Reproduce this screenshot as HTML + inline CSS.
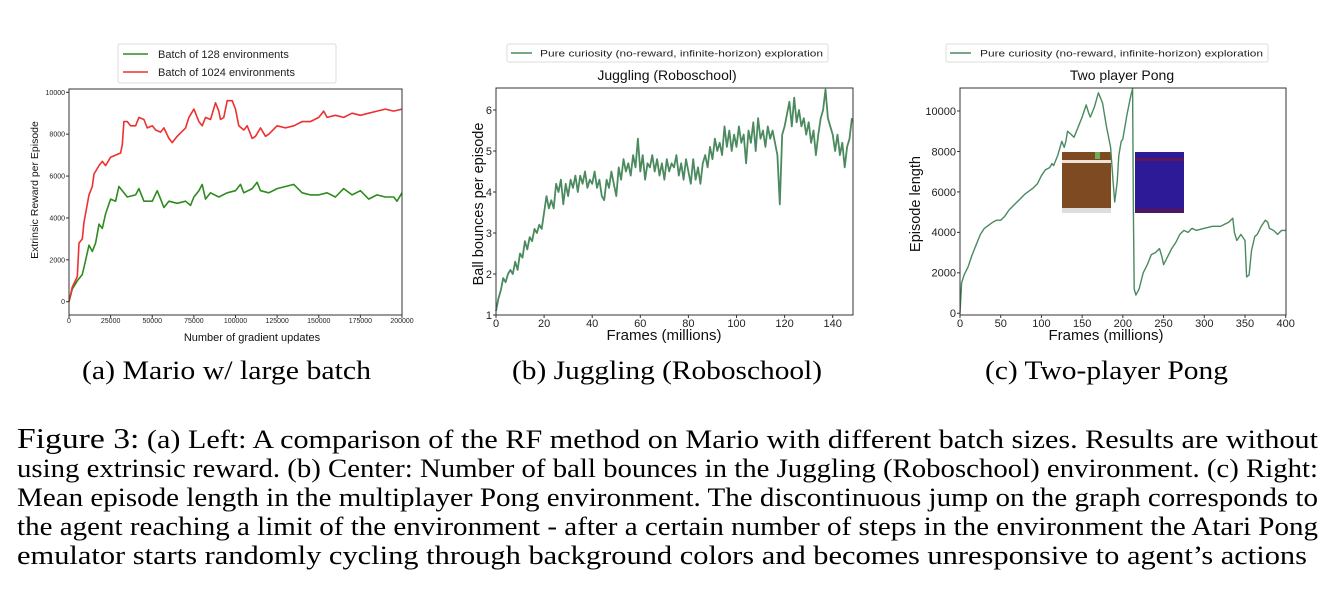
<!DOCTYPE html>
<html><head><meta charset="utf-8"><style>
html,body{margin:0;padding:0;background:#fff;}
svg{display:block;}
text{font-family:"Liberation Sans","DejaVu Sans",sans-serif;}
text.serif{font-family:"Liberation Serif","Times New Roman",serif;}
</style></head><body>
<svg id="fig" width="1336" height="604" viewBox="0 0 1336 604" xmlns="http://www.w3.org/2000/svg">
<g id="capA"><text class="serif" x="82" y="379" font-size="26" textLength="289" lengthAdjust="spacingAndGlyphs">(a) Mario w/ large batch</text></g>
<g id="capB"><text class="serif" x="512" y="379" font-size="26" textLength="310" lengthAdjust="spacingAndGlyphs">(b) Juggling (Roboschool)</text></g>
<g id="capC"><text class="serif" x="985" y="379" font-size="26" textLength="243" lengthAdjust="spacingAndGlyphs">(c) Two-player Pong</text></g>
<g>
<text class="serif" x="17" y="448" font-size="26" textLength="1301" lengthAdjust="spacingAndGlyphs"><tspan font-size="29">Figure 3:</tspan> (a) Left: A comparison of the RF method on Mario with different batch sizes. Results are without</text>
<text class="serif" x="17" y="477" font-size="26" textLength="1301" lengthAdjust="spacingAndGlyphs">using extrinsic reward. (b) Center: Number of ball bounces in the Juggling (Roboschool) environment. (c) Right:</text>
<text class="serif" x="17" y="506" font-size="26" textLength="1301" lengthAdjust="spacingAndGlyphs">Mean episode length in the multiplayer Pong environment. The discontinuous jump on the graph corresponds to</text>
<text class="serif" x="17" y="535" font-size="26" textLength="1301" lengthAdjust="spacingAndGlyphs">the agent reaching a limit of the environment - after a certain number of steps in the environment the Atari Pong</text>
<text class="serif" x="17" y="564" font-size="26" textLength="1290" lengthAdjust="spacingAndGlyphs">emulator starts randomly cycling through background colors and becomes unresponsive to agent’s actions</text>
</g>
</svg>
<script>
// ---- Chart (a) Mario data ----
const marioX128 = [0,2,5,8,10,12,14,16,18,20,22,25,28,30,32,35,40,42,45,50,53,55,57,60,65,70,73,75,78,80,82,85,90,95,100,103,105,110,113,115,120,125,130,135,140,145,150,155,160,165,170,175,180,185,190,195,197,200];
const mario128 = [0,600,1000,1300,2000,2700,2400,2800,3700,3500,4200,4900,4800,5500,5300,5000,5100,5400,4800,4800,5300,4900,4500,4800,4700,4800,4600,5000,5300,5600,4900,5200,5000,5200,5300,5600,5200,5400,5700,5300,5200,5400,5500,5600,5200,5100,5100,5200,5000,5400,5100,5300,4900,5100,5000,5000,4800,5200];
const marioX1024 = [0,2,5,6,8,9,12,14,15,18,20,22,25,28,31,32,33,35,37,40,42,45,47,50,52,55,57,60,62,65,70,72,75,78,80,82,85,88,90,91,93,95,98,100,102,105,107,110,112,115,118,120,125,130,135,140,145,150,153,155,160,165,170,175,180,185,190,195,200];
const mario1024 = [0,700,1200,2800,3000,3800,5100,5500,6100,6500,6700,6500,6900,7000,7100,7500,8600,8600,8400,8400,8800,8700,8300,8400,8200,8100,8300,7800,7600,7900,8300,8800,9200,8600,8400,8800,8700,9500,9100,8700,8800,9600,9600,9200,8400,8200,8400,7800,7900,8300,7900,8000,8400,8300,8400,8600,8600,8800,9100,8800,8900,8800,9000,8900,9000,9100,9200,9100,9200];
const marioXTicks = [0,25000,50000,75000,100000,125000,150000,175000,200000];
const marioYTicks = [0,2000,4000,6000,8000,10000];
// ---- Chart (b) Juggling data ----
const juggleY = [1.1,1.4,1.6,1.9,1.8,2.0,2.1,2.0,2.3,2.1,
2.5,2.4,2.8,2.6,2.9,2.8,3.1,3.0,3.2,3.1,
3.5,3.9,3.6,3.8,3.6,4.2,4.0,4.3,3.7,4.2,
3.9,4.3,4.1,4.4,4.0,4.4,4.2,4.5,4.1,4.3,
4.2,4.5,4.1,4.3,3.9,3.8,4.3,4.1,4.5,4.2,
3.9,4.6,4.3,4.8,4.5,4.7,4.4,4.9,4.6,5.3,
4.5,4.9,4.3,4.7,4.6,4.9,4.5,4.8,4.4,4.7,
4.3,4.8,4.5,4.7,4.6,4.9,4.4,4.7,4.3,4.8,
4.5,4.2,4.8,4.3,4.6,4.2,4.7,4.9,4.6,5.1,
4.8,5.3,5.0,5.2,4.9,5.6,5.1,5.5,5.0,5.4,
5.1,5.6,5.2,5.4,4.7,5.5,5.2,5.7,5.0,5.8,
5.3,5.5,5.1,5.6,5.3,5.5,5.2,4.9,3.7,5.4,
5.6,5.9,6.2,5.6,6.3,5.7,6.0,5.6,5.8,5.4,
5.7,5.2,5.5,4.9,5.4,5.8,6.0,6.5,5.8,5.6,
5.4,5.0,5.4,4.9,5.2,4.6,5.1,5.3,5.8];
const juggleXTicks = [0,20,40,60,80,100,120,140];
const juggleYTicks = [1,2,3,4,5,6];
// ---- Chart (c) Pong data ----
const pongX = [0,2,5,10,15,20,25,30,40,45,50,55,60,70,75,80,90,95,100,105,110,113,115,120,125,128,130,132,135,140,145,150,155,158,160,165,170,175,180,185,188,190,193,195,198,200,205,210,212,213,214,216,220,225,230,235,240,245,248,250,255,260,265,270,275,280,285,290,300,310,320,330,335,337,340,345,350,352,355,358,362,365,370,375,378,380,385,390,395,400];
const pongY = [0,1500,1900,2300,2900,3400,3900,4200,4500,4600,4600,4800,5100,5500,5700,5900,6200,6400,6800,7100,7200,7400,7300,7800,8500,8200,8500,9000,8900,8700,9200,9700,10300,9900,9700,10200,10900,10400,9200,8200,6500,5500,6500,7800,8500,8600,9800,10800,11100,5000,1200,900,1200,2000,2400,2900,3000,3200,2800,2400,2800,3200,3500,3900,4100,4000,4200,4100,4200,4300,4300,4500,4700,4000,3600,3900,3600,1800,1900,3100,3800,3900,4300,4600,4500,4200,4100,3900,4100,4100];
const pongXTicks = [0,50,100,150,200,250,300,350,400];
const pongYTicks = [0,2000,4000,6000,8000,10000];

const NS = 'http://www.w3.org/2000/svg';
const svg = document.getElementById('fig');
function mk(tag, attrs, parent) {
  const e = document.createElementNS(NS, tag);
  for (const k in attrs) e.setAttribute(k, attrs[k]);
  (parent || svg).appendChild(e);
  return e;
}
function scale(d0, d1, r0, r1) { return v => r0 + (v - d0) / (d1 - d0) * (r1 - r0); }

function axes(g, box, sx, sy, xt, yt, fs, xFmt, yFmt) {
  mk('rect', {x: box.l, y: box.t, width: box.r - box.l, height: box.b - box.t, fill: 'none', stroke: '#333', 'stroke-width': 1}, g);
  xt.forEach(v => {
    const x = sx(v);
    const t = mk('line', {x1: x, x2: x, y1: box.b, y2: box.b + 3, stroke: '#333'}, g);
    
    
    const tx = mk('text', {x: x, y: box.b + fs + 1, 'font-size': fs, 'text-anchor': 'middle', fill: '#222'}, g);
    tx.textContent = xFmt(v);
    
    
  });
  yt.forEach(v => {
    const y = sy(v);
    const t = mk('line', {x1: box.l - 3, x2: box.l, y1: y, y2: y, stroke: '#333'}, g);
    
    
    const tx = mk('text', {x: box.l - 4, y: y + fs * 0.35, 'font-size': fs, 'text-anchor': 'end', fill: '#222'}, g);
    tx.textContent = yFmt(v);
    
    
  });
}
function line(g, xs, ys, sx, sy, color, w, name) {
  const d = xs.map((x, i) => (i ? 'L' : 'M') + sx(x).toFixed(1) + ',' + sy(ys[i]).toFixed(1)).join('');
  const p = mk('path', {d: d, fill: 'none', stroke: color, 'stroke-width': w, 'stroke-linejoin': 'round'}, g);
  
  
}
function label(g, x, y, txt, fs, rot, name) {
  const t = mk('text', {x: x, y: y, 'font-size': fs, 'text-anchor': 'middle', fill: '#111'}, g);
  if (rot) t.setAttribute('transform', 'rotate(-90 ' + x + ' ' + y + ')');
  t.textContent = txt;
  
  
}

// ---- Chart (a) ----
{
  const g = mk('g', {});
  
  
  const box = {l: 69, r: 402, t: 89, b: 315};
  const sx = scale(0, 200000, box.l, box.r);
  const sy = scale(0, 10000, 301.7, 92.3);
  const sxk = v => sx(v * 1000);
  line(g, marioX128, mario128, sxk, sy, '#2e8b1e', 1.6, 'series-batch-128');
  line(g, marioX1024, mario1024, sxk, sy, '#ee3030', 1.6, 'series-batch-1024');
  axes(g, box, sx, sy, marioXTicks, marioYTicks, 7, v => String(v), v => String(v));
  label(g, 252, 341, 'Number of gradient updates', 11, false, 'x-axis-title');
  label(g, 38, 190, 'Extrinsic Reward per Episode', 10.5, true, 'y-axis-title');
  const lg = mk('g', {}, g);
  
  
  mk('rect', {x: 118, y: 44, width: 218, height: 39, fill: '#fff', stroke: '#ddd', rx: 2}, lg);
  mk('line', {x1: 123, x2: 148, y1: 54, y2: 54, stroke: '#2e8b1e', 'stroke-width': 1.6}, lg);
  mk('line', {x1: 123, x2: 148, y1: 72, y2: 72, stroke: '#ee3030', 'stroke-width': 1.6}, lg);
  const t1 = mk('text', {x: 158, y: 58, 'font-size': 11, fill: '#222'}, lg); t1.textContent = 'Batch of 128 environments';
  
  
  const t2 = mk('text', {x: 158, y: 76, 'font-size': 11, fill: '#222'}, lg); t2.textContent = 'Batch of 1024 environments';
  
  
}
// ---- Chart (b) ----
{
  const g = mk('g', {});
  
  
  const box = {l: 496, r: 853, t: 88, b: 315};
  const sx = scale(0, 140, 496, 832.7);
  const sy = scale(1, 6, 315, 110);
  const xs = juggleY.map((v, i) => i);
  line(g, xs, juggleY, sx, sy, '#4a8a5e', 1.8, 'series-juggling');
  axes(g, box, sx, sy, juggleXTicks, juggleYTicks, 11, v => String(v), v => String(v));
  label(g, 667, 80, 'Juggling (Roboschool)', 14, false, 'chart-title');
  label(g, 664, 340, 'Frames (millions)', 15, false, 'x-axis-title');
  label(g, 483, 204, 'Ball bounces per episode', 14.5, true, 'y-axis-title');
  const lg = mk('g', {}, g);
  
  
  mk('rect', {x: 507, y: 44, width: 321, height: 18, fill: '#fff', stroke: '#ddd', rx: 2}, lg);
  mk('line', {x1: 511, x2: 532, y1: 53, y2: 53, stroke: '#4a8a5e', 'stroke-width': 1.5}, lg);
  const t = mk('text', {x: 540, y: 56.5, 'font-size': 9.5, fill: '#222', textLength: 283, lengthAdjust: 'spacingAndGlyphs'}, lg);
  t.textContent = 'Pure curiosity (no-reward, infinite-horizon) exploration';
  
  
}
// ---- Chart (c) ----
{
  const g = mk('g', {});
  
  
  const box = {l: 960, r: 1286, t: 88, b: 315};
  const sx = scale(0, 400, 960, 1285.7);
  const sy = scale(0, 10000, 313.3, 111);
  const a = mk('rect', {x: 1062, y: 152, width: 49, height: 61, fill: '#7e4a22'}, g);
  
  
  mk('rect', {x: 1062, y: 160, width: 49, height: 3, fill: '#f0e0d8'}, g);
  mk('rect', {x: 1062, y: 208, width: 49, height: 5, fill: '#ddd'}, g);
  mk('rect', {x: 1095, y: 152, width: 5, height: 7, fill: '#6cae5a'}, g);
  const b = mk('rect', {x: 1135, y: 152, width: 49, height: 61, fill: '#2c1a96'}, g);
  
  
  mk('rect', {x: 1135, y: 158, width: 49, height: 3, fill: '#5a1858'}, g);
  mk('rect', {x: 1135, y: 208, width: 49, height: 5, fill: '#4a1868'}, g);
  line(g, pongX, pongY, sx, sy, '#4a8a5e', 1.4, 'series-pong');
  axes(g, box, sx, sy, pongXTicks, pongYTicks, 11, v => String(v), v => String(v));
  label(g, 1122, 80, 'Two player Pong', 14, false, 'chart-title');
  label(g, 1106, 340, 'Frames (millions)', 15, false, 'x-axis-title');
  label(g, 920, 204, 'Episode length', 14.5, true, 'y-axis-title');
  const lg = mk('g', {}, g);
  
  
  mk('rect', {x: 946, y: 44, width: 322, height: 18, fill: '#fff', stroke: '#ddd', rx: 2}, lg);
  mk('line', {x1: 950, x2: 971, y1: 53, y2: 53, stroke: '#4a8a5e', 'stroke-width': 1.5}, lg);
  const t = mk('text', {x: 980, y: 56.5, 'font-size': 9.5, fill: '#222', textLength: 283, lengthAdjust: 'spacingAndGlyphs'}, lg);
  t.textContent = 'Pure curiosity (no-reward, infinite-horizon) exploration';
  
  
}
</script>
</body></html>
